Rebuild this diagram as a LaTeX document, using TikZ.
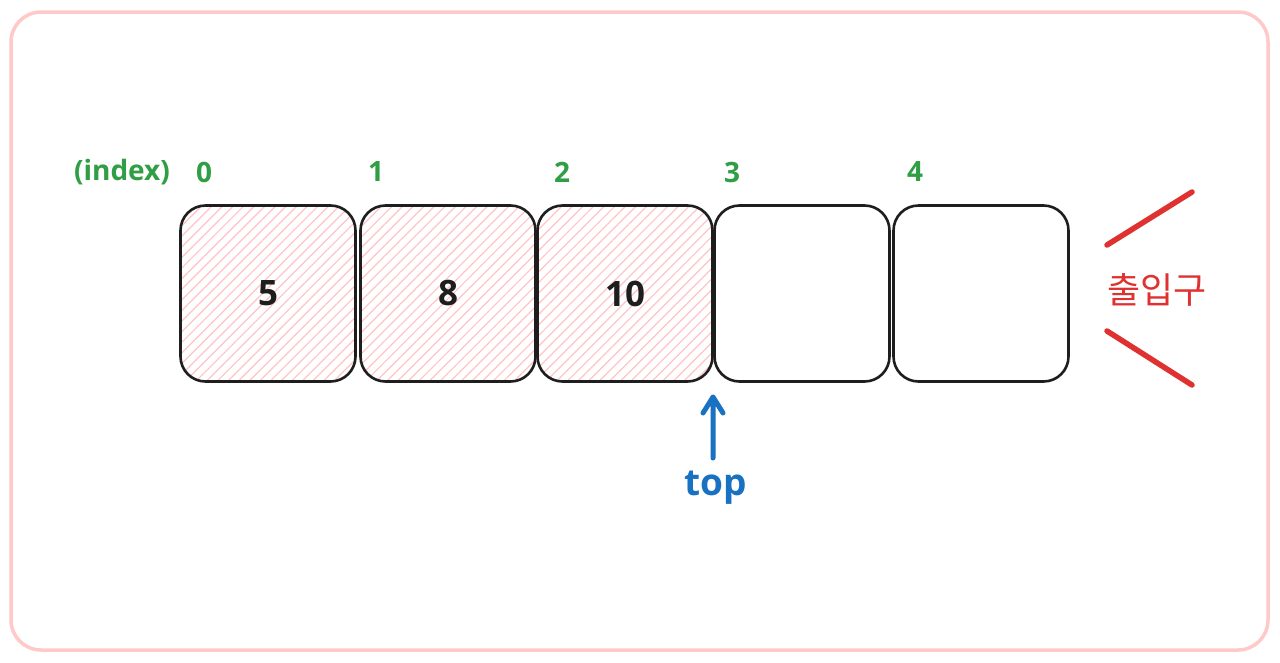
\documentclass[tikz,border=0pt]{standalone}
\usepackage{fontspec}
\setmainfont{Open Sans}
\newfontfamily\kr{Noto Sans CJK KR}
\usetikzlibrary{arrows.meta,patterns.meta}
\definecolor{framepink}{HTML}{FFC9C9}
\definecolor{hatchpink}{HTML}{FFC4C4}
\definecolor{idxgreen}{HTML}{2F9E44}
\definecolor{topblue}{HTML}{1971C2}
\definecolor{ioRed}{HTML}{E03131}
\definecolor{inkblack}{HTML}{1E1E1E}
\tikzset{
  cell/.style={draw=inkblack, line width=2.6pt, rounded corners=25pt,
    minimum width=175pt, minimum height=176pt, inner sep=0pt,
    font=\bfseries\fontsize{35}{40}\selectfont, text=inkblack},
  filledcell/.style={cell, pattern={Lines[angle=45,distance=7.5pt,line width=1.2pt]}, pattern color=hatchpink},
  idx/.style={text=idxgreen, font=\bfseries\fontsize{28}{32}\selectfont, inner sep=0pt},
  ioline/.style={draw=ioRed, line width=5.5pt, line cap=round},
  toparrow/.style={draw=topblue, line width=5pt, line cap=round, line join=round}
}
\begin{document}
\begin{tikzpicture}[x=1pt,y=-1pt]
\useasboundingbox (0,0) rectangle (1280,662);
\fill[white] (0,0) rectangle (1280,662);
\draw[framepink, line width=3.5pt, rounded corners=30pt] (11,12) rectangle (1268,650);

\node[filledcell] (b0) at (268,293.5) {5};
\node[filledcell] (b1) at (448,293.5) {8};
\node[filledcell] (b2) at (625,293.5) {10};
\node[cell] (b3) at (802,293.5) {};
\node[cell] (b4) at (981,293.5) {};

\node[idx] (lidx) at (122,172) {(index)};
\node[idx] (l0) at (204,172) {0};
\node[idx] (l1) at (376,172) {1};
\node[idx] (l2) at (562,172) {2};
\node[idx] (l3) at (732,172) {3};
\node[idx] (l4) at (915,172) {4};

\node[text=topblue, font=\bfseries\fontsize{37}{42}\selectfont, inner sep=0pt] (top) at (716,488) {top};
\coordinate (tailA) at (713,458);
\coordinate (tipA) at (713,397);
\draw[toparrow] (tailA) -- (tipA) -- ++(-10,16) (tipA) -- ++(10,16);

\node[text=ioRed, font=\kr\fontsize{36}{40}\selectfont, inner sep=0pt] (io) at (1157,290) {출입구};
\coordinate (u1) at (1107,245);
\coordinate (u2) at (1192,192);
\coordinate (d1) at (1107,331);
\coordinate (d2) at (1192,385);
\draw[ioline] (u1) -- (u2);
\draw[ioline] (d1) -- (d2);
\end{tikzpicture}
\end{document}
